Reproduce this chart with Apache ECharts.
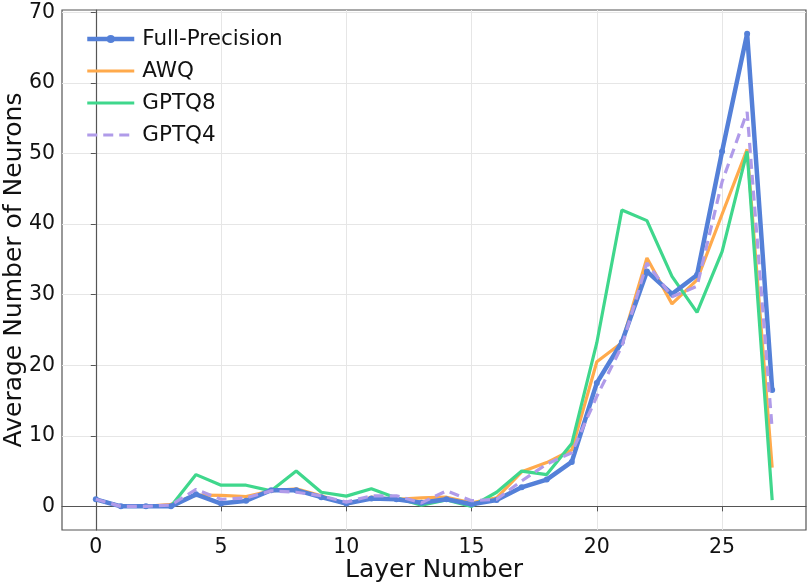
<!DOCTYPE html>
<html>
<head>
<meta charset="utf-8">
<script src="https://cdn.jsdelivr.net/npm/echarts@6/dist/echarts.min.js"></script>
<style>html,body{margin:0;padding:0;background:#fff}#c{width:810px;height:587px}</style>
</head>
<body>
<div id="c"></div>
<script>
const layers = [0,1,2,3,4,5,6,7,8,9,10,11,12,13,14,15,16,17,18,19,20,21,22,23,24,25,26,27];
const fullPrecision = [1.0,0,0,0,1.7,0.4,0.8,2.3,2.3,1.3,0.4,1.1,1.0,0.5,1.0,0.3,0.9,2.7,3.8,6.3,17.5,23.3,33.3,30.1,32.8,50.3,67.0,16.5];
const awq = [1.0,0,0,0.3,1.6,1.55,1.4,2.2,2.5,1.5,0.3,1.3,1.0,1.2,1.3,0.5,1.2,4.9,6.2,8.0,20.5,23.2,35.2,28.7,32.1,41.4,50.6,5.5];
const gptq8 = [1.0,0,0,0,4.5,3.0,3.0,2.2,5.0,2.0,1.45,2.5,1.2,0.15,0.9,0,2.0,5.0,4.5,8.9,23.2,42.0,40.5,32.6,27.5,36.1,50.3,0.9];
const gptq4 = [1.0,0,0,0.2,2.4,1.0,1.2,2.2,2.0,1.5,0.6,1.5,1.5,0.5,2.2,0.8,1.0,3.6,6.0,7.6,15.6,22.7,34.5,29.7,31.2,46.0,55.9,10.9];
const xTicks = [0,5,10,15,20,25];
const yTicks = [0,10,20,30,40,50,60,70];

const pairs = arr => layers.map((l,i)=>[l,arr[i]]);
const FONT = 'DejaVu Sans';
const chart = echarts.init(document.getElementById('c'), null, {renderer:'canvas'});
chart.setOption({
  animation:false,
  textStyle:{fontFamily:FONT},
  grid:{left:62,right:4,top:10,bottom:57,outerBoundsMode:'none',containLabel:false,show:true,borderColor:'#555',borderWidth:1.2,backgroundColor:'transparent'},
  legend:{
    orient:'vertical',left:80,top:23,itemWidth:47,itemHeight:10,itemGap:10,
    textStyle:{fontFamily:FONT,fontSize:21.5,lineHeight:22,color:'#111',padding:[0,0,0,3]},
    data:[
      {name:'Full-Precision',lineStyle:{width:4.5}},
      {name:'AWQ',itemStyle:{opacity:0},lineStyle:{width:3.2}},
      {name:'GPTQ8',itemStyle:{opacity:0},lineStyle:{width:3.2}},
      {name:'GPTQ4',itemStyle:{opacity:0},lineStyle:{width:3.2}}
    ]
  },
  xAxis:{
    type:'value',min:-1.35,max:28.35,
    name:'Layer Number',nameLocation:'middle',nameGap:28,nameMoveOverlap:false,
    nameTextStyle:{fontFamily:FONT,fontSize:25,color:'#111'},
    axisLine:{show:true,lineStyle:{color:'#555',width:1.2}},
    axisTick:{show:true,length:5,customValues:xTicks,lineStyle:{color:'#555'}},
    axisLabel:{customValues:xTicks,fontFamily:FONT,fontSize:20.5,color:'#111',margin:7},
    splitLine:{show:true,lineStyle:{color:'#e6e6e6'}}
  },
  yAxis:{
    type:'value',min:-3.35,max:70.35,
    name:'Average Number of Neurons',nameLocation:'middle',nameGap:35,nameMoveOverlap:false,
    nameTextStyle:{fontFamily:FONT,fontSize:25,color:'#111'},
    axisLine:{show:true,lineStyle:{color:'#555',width:1.2}},
    axisTick:{show:true,length:5,customValues:yTicks,lineStyle:{color:'#555'}},
    axisLabel:{customValues:yTicks,fontFamily:FONT,fontSize:20.5,color:'#111',margin:7},
    splitLine:{show:true,lineStyle:{color:'#e6e6e6'}}
  },
  series:[
    {name:'Full-Precision',type:'line',data:pairs(fullPrecision),symbol:'circle',symbolSize:6,z:5,
      color:'#5480d8',lineStyle:{width:4.5,color:'#5480d8'},itemStyle:{color:'#5480d8'}},
    {name:'AWQ',type:'line',data:pairs(awq),symbol:'none',z:3,
      color:'#ffaa4c',lineStyle:{width:3.2,color:'#ffaa4c'}},
    {name:'GPTQ8',type:'line',data:pairs(gptq8),symbol:'none',z:4,
      color:'#3fd78c',lineStyle:{width:3.2,color:'#3fd78c'}},
    {name:'GPTQ4',type:'line',data:pairs(gptq4),symbol:'none',z:6,
      color:'#b09be9',lineStyle:{width:3.2,color:'#b09be9',type:[10,6]}}
  ]
});
</script>
</body>
</html>
